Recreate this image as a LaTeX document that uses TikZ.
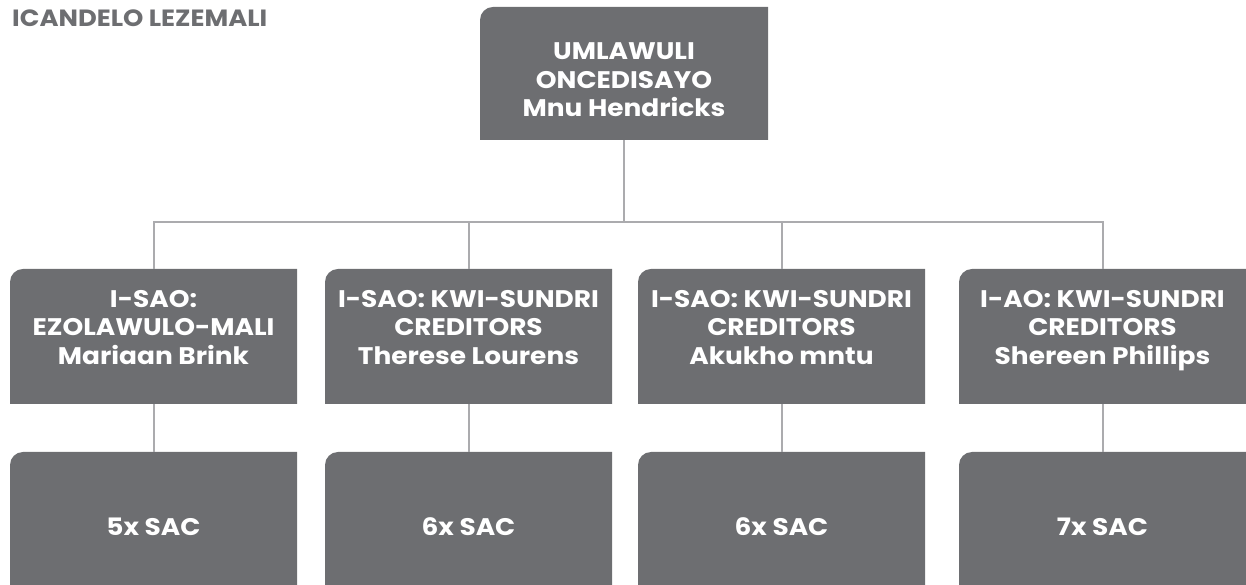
\documentclass[tikz,border=0pt]{standalone}
\usepackage{fontspec}
\setmainfont{Poppins}[FakeStretch=1.1]
\usetikzlibrary{backgrounds}
\definecolor{boxgray}{HTML}{6D6E71}
\definecolor{linegray}{HTML}{ABABAE}
\newcommand\roundfill[1]{\fill[boxgray] (#1.south west) -- ([yshift=-13pt]#1.north west) arc[start angle=180,end angle=90,radius=13pt] -- (#1.north east) -- (#1.south east) -- cycle;}
\begin{document}
\begin{tikzpicture}[x=1pt,y=1pt,
  boxshape/.style={minimum width=287pt, inner sep=0pt, outer sep=0pt},
  boxtext/.style={align=center, text=white, inner sep=0pt, font=\fontsize{24}{28.5}\selectfont\bfseries},
  conn/.style={draw=linegray, line width=2pt}]
\useasboundingbox (0,0) rectangle (1246,585);
% title
\node[anchor=base west, inner sep=0pt, text=boxgray, font=\fontsize{23.5}{26}\selectfont\bfseries] (title) at (12,558) {ICANDELO LEZEMALI};
% boxes
\node[boxshape, minimum width=288pt, minimum height=133pt] (top) at (624,511.5) {};
\node[boxshape, minimum height=135pt] (a) at (153.5,248.5) {};
\node[boxshape, minimum height=135pt] (b) at (468.5,248.5) {};
\node[boxshape, minimum height=135pt] (c) at (781.5,248.5) {};
\node[boxshape, minimum height=135pt] (d) at (1102.5,248.5) {};
\node[boxshape, minimum height=148pt] (a2) at (153.5,59) {};
\node[boxshape, minimum height=148pt] (b2) at (468.5,59) {};
\node[boxshape, minimum height=148pt] (c2) at (781.5,59) {};
\node[boxshape, minimum height=148pt] (d2) at (1102.5,59) {};
\begin{scope}[on background layer]
\foreach \n in {top,a,b,c,d,a2,b2,c2,d2} {\roundfill{\n}}
\coordinate (hub) at (top.center |- 0,363);
\draw[conn] (top.south) -- (hub);
\draw[conn] (a.north) |- (hub) -| (d.north);
\draw[conn] (b.north) -- (b.north |- hub);
\draw[conn] (c.north) -- (c.north |- hub);
\draw[conn] (a.south) -- (a2.north);
\draw[conn] (b.south) -- (b2.north);
\draw[conn] (c.south) -- (c2.north);
\draw[conn] (d.south) -- (d2.north);
\end{scope}
% texts
\node[boxtext] (topt) at ([yshift=-9pt]top.center) {\strut UMLAWULI\\\strut ONCEDISAYO\\\strut Mnu Hendricks};
\node[boxtext] (at) at ([yshift=6.5pt]a.center) {\strut I-SAO:\\\strut EZOLAWULO-MALI\\\strut Mariaan Brink};
\node[boxtext] (bt) at ([yshift=6.5pt]b.center) {\strut I-SAO: KWI-SUNDRI\\\strut CREDITORS\\\strut Therese Lourens};
\node[boxtext] (ct) at ([yshift=6.5pt]c.center) {\strut I-SAO: KWI-SUNDRI\\\strut CREDITORS\\\strut Akukho mntu};
\node[boxtext] (dt) at ([yshift=6.5pt]d.center) {\strut I-AO: KWI-SUNDRI\\\strut CREDITORS\\\strut Shereen Phillips};
\node[boxtext] (a2t) at ([yshift=-4pt]a2.center) {\strut 5x SAC};
\node[boxtext] (b2t) at ([yshift=-4pt]b2.center) {\strut 6x SAC};
\node[boxtext] (c2t) at ([yshift=-4pt]c2.center) {\strut 6x SAC};
\node[boxtext] (d2t) at ([yshift=-4pt]d2.center) {\strut 7x SAC};
\end{tikzpicture}
\end{document}
